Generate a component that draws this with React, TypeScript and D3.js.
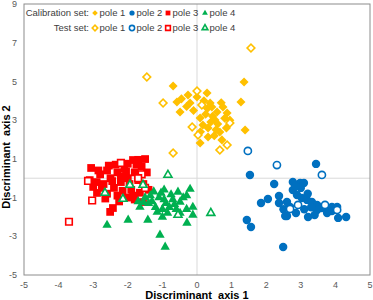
import React from "react";
import * as d3 from "d3";

const xTicks = [-5, -4, -3, -2, -1, 0, 1, 2, 3, 4, 5];
const yTicks = [9, 7, 5, 3, 1, -1, -3, -5];

const pole1Cal: [number, number][] = [
  [1.36, 4.97], [1.27, 3.94], [-0.69, 4.76], [-0.58, 3.94], [-0.49, 3.42], [-0.26, 4.3], [-0.2, 3.89],
  [0.29, 4.4], [0.38, 3.89], [0.43, 3.68], [0.09, 3.11], [0.58, 3.42], [0.75, 3.68], [0.52, 3.01],
  [0.32, 2.6], [0.66, 2.39], [0.17, 2.75], [0.32, 2.13], [0.09, 1.82], [0.72, 1.98], [1.39, 2.49],
  [0.87, 3.37], [0.45, 3.2], [0.6, 2.8], [0.25, 3.3], [0.8, 3.1], [0.5, 2.2], [0.1, 2.4], [-0.1, 3.5],
  [0.7, 3.9], [0.2, 4.0], [0.4, 2.9], [0.95, 3.0], [0.3, 3.6], [0.0, 4.2], [0.55, 2.5], [0.85, 2.6],
  [-0.45, 4.1], [-0.3, 3.7],
];
const pole1Test: [number, number][] = [
  [1.56, 6.73], [-1.45, 5.23], [0.0, 4.51], [-0.98, 3.89], [0.14, 3.78], [-0.14, 2.65], [0.03, 2.23],
  [-0.69, 1.3], [0.66, 1.46], [0.87, 1.72], [0.95, 2.85],
];
const pole2Cal: [number, number][] = [
  [3.44, 0.74], [1.53, 0.17], [2.23, -0.3], [2.77, -0.19], [2.98, -0.25], [3.09, -0.25], [2.77, -0.61],
  [2.89, -0.87], [3.03, -1.02], [3.18, -1.12], [3.32, -1.23], [3.47, -1.38], [3.61, -1.54], [3.76, -1.54],
  [3.9, -1.49], [4.05, -1.49], [4.08, -2.05], [4.31, -2.0], [3.76, -1.8], [3.47, -1.64], [1.85, -1.28],
  [2.05, -1.07], [2.37, -0.92], [2.37, -1.28], [2.6, -1.23], [2.69, -1.49], [2.6, -1.95], [2.86, -1.8],
  [3.21, -2.0], [1.44, -2.16], [1.56, -2.52], [2.49, -3.55], [3.0, -0.5], [3.2, -0.8], [2.5, -1.6],
  [3.4, -1.9], [3.1, -1.6], [2.85, -0.4], [3.3, -1.5], [3.9, -1.7], [2.55, -1.95],
];
const pole2Test: [number, number][] = [
  [1.47, 1.41], [2.31, 0.68], [3.61, 0.17], [3.7, -1.38], [4.05, -1.64], [2.69, -1.59], [2.92, -1.38],
];
const pole3Cal: [number, number][] = [
  [-3.06, 0.53], [-3.1, -0.1], [-2.89, -0.76], [-1.5, 0.99], [-1.85, 0.94], [-1.56, -1.23], [-2.51, -1.74],
  [-2.43, -1.54], [-2.8, 0.2], [-2.7, -0.3], [-2.6, 0.4], [-2.5, 0.0], [-2.4, -0.5], [-2.3, 0.3],
  [-2.2, -0.2], [-2.1, 0.5], [-2.0, 0.0], [-1.9, -0.6], [-1.8, 0.3], [-1.7, -0.1], [-1.6, 0.6],
  [-1.55, -0.3], [-2.35, 0.7], [-2.0, 0.75], [-1.75, 0.7], [-2.6, -0.8], [-2.3, -0.9], [-2.0, -1.0],
  [-1.8, -1.1], [-2.75, -0.5], [-2.9, -0.2], [-2.15, -0.65], [-1.95, -0.3], [-2.45, -0.15], [-2.55, 0.65],
  [-1.65, -0.75], [-2.85, 0.4], [-2.2, 0.1], [-1.85, -0.9], [-2.65, -1.05], [-3.0, -0.45], [-1.45, 0.3],
  [-1.4, -0.6], [-2.25, -1.2], [-1.7, 0.95], [-2.05, 0.35],
];
const pole3Test: [number, number][] = [
  [-2.2, 0.79], [-3.15, -0.14], [-3.03, -1.15], [-1.5, -0.5], [-3.7, -2.25], [-1.6, 0.2], [-1.7, 0.0],
];
const pole4Cal: [number, number][] = [
  [-0.2, -0.56], [-0.55, -0.71], [-1.04, -0.76], [-0.12, -1.49], [-0.12, -1.9], [-0.29, -2.31],
  [-2.6, -2.42], [-1.99, -2.16], [-1.42, -2.16], [-1.07, -2.93], [-0.92, -3.55], [-1.65, -1.49],
  [-0.49, -1.23], [-0.49, -1.8], [-1.5, -1.0], [-1.3, -1.2], [-1.1, -1.0], [-0.9, -1.3], [-0.7, -1.1],
  [-1.2, -1.5], [-1.0, -1.6], [-0.8, -1.5], [-0.6, -1.6], [-1.4, -1.3], [-1.35, -0.9], [-0.95, -1.1],
  [-0.75, -0.85], [-1.15, -1.75], [-0.85, -1.8], [-0.65, -1.35], [-1.55, -1.25], [-0.4, -1.0],
  [-0.3, -0.9], [-1.7, -1.2], [-0.95, -0.6], [-1.25, -0.7], [-0.3, -1.6], [-1.0, -2.0],
];
const pole4Test: [number, number][] = [
  [-0.84, 0.17], [-1.94, -0.35], [-2.66, -0.76], [-2.14, -1.07], [-1.56, -0.35], [-0.55, -1.9], [0.4, -1.8],
];

const poleLabels = ["pole 1", "pole 2", "pole 3", "pole 4"];
const colors = ["#FFC000", "#0070C0", "#FF0000", "#00B050"];
const shapes = ["diamond", "circle", "square", "triangle"];

const W = 373, H = 300;
const x = d3.scaleLinear().domain([-5, 5]).range([24, 370]);
const y = d3.scaleLinear().domain([-5, 9]).range([275, 4]);
const FONT = "'Liberation Sans', Arial, sans-serif";

function symPath(shape: string, scale: number) {
  if (shape === "diamond") return d3.symbol(d3.symbolSquare, 41 * scale * scale)()!;
  if (shape === "circle") return d3.symbol(d3.symbolCircle, 56 * scale * scale)()!;
  if (shape === "square") return d3.symbol(d3.symbolSquare, 60 * scale * scale)()!;
  return d3.symbol(d3.symbolTriangle, 38 * scale * scale)()!;
}

function Marker({ shape, color, hollow, cx, cy, scale = 1 }: any) {
  const s = hollow ? scale * 0.85 : scale;
  const rot = shape === "diamond" ? 45 : 0;
  return (
    <path
      d={symPath(shape, s)}
      transform={`translate(${cx},${cy}) rotate(${rot})`}
      fill={hollow ? "#fff" : color}
      stroke={hollow ? color : "none"}
      strokeWidth={hollow ? 1.6 : 0}
    />
  );
}

const calSeries = [pole1Cal, pole2Cal, pole3Cal, pole4Cal];
const testSeries = [pole1Test, pole2Test, pole3Test, pole4Test];

export default function App() {
  const legendX = [95, 132, 168, 205];
  return (
    <svg width={W} height={H} style={{ position: "absolute", left: 0, top: 0, background: "#fff" }} fontFamily={FONT}>
      <rect x={0} y={0} width={W} height={H} fill="#fff" />
      <line x1={x(0)} x2={x(0)} y1={y(9)} y2={y(-5)} stroke="#d9d9d9" strokeWidth={1} />
      <line x1={x(-5)} x2={x(5)} y1={y(0)} y2={y(0)} stroke="#d9d9d9" strokeWidth={1} />
      <rect x={x(-5)} y={y(9)} width={x(5) - x(-5)} height={y(-5) - y(9)} fill="none" stroke="#8c8c8c" strokeWidth={1} />
      {yTicks.map((t) => (
        <text key={"y" + t} x={17} y={y(t)} dy="0.35em" textAnchor="end" fontSize={9} fill="#595959">{t}</text>
      ))}
      {xTicks.map((t) => (
        <text key={"x" + t} x={x(t)} y={288} textAnchor="middle" fontSize={9} fill="#595959">{t}</text>
      ))}
      <text x={x(0)} y={299} textAnchor="middle" fontSize={11} fontWeight="bold" fill="#000" style={{ whiteSpace: "pre" }}>{"Discriminant  axis 1"}</text>
      <text transform={`translate(10,157) rotate(-90)`} textAnchor="middle" fontSize={11} fontWeight="bold" fill="#000" style={{ whiteSpace: "pre" }}>{"Discriminant  axis 2"}</text>
      {calSeries.map((ser, i) => (
        <g key={"c" + i}>
          {ser.map((p, j) => (
            <Marker key={j} shape={shapes[i]} color={colors[i]} hollow={false} cx={x(p[0])} cy={y(p[1])} />
          ))}
        </g>
      ))}
      {testSeries.map((ser, i) => (
        <g key={"t" + i}>
          {ser.map((p, j) => (
            <Marker key={j} shape={shapes[i]} color={colors[i]} hollow={true} cx={x(p[0])} cy={y(p[1])} />
          ))}
        </g>
      ))}
      <text x={89} y={13} dy="0.35em" textAnchor="end" fontSize={9.5} fill="#404040">Calibration set:</text>
      <text x={89} y={28} dy="0.35em" textAnchor="end" fontSize={9.5} fill="#404040">Test set:</text>
      {poleLabels.map((lab, i) => (
        <g key={"l" + i}>
          <Marker shape={shapes[i]} color={colors[i]} hollow={false} cx={legendX[i]} cy={13} scale={0.62} />
          <text x={legendX[i] + 4.5} y={13} dy="0.35em" fontSize={9.5} fill="#404040">{lab}</text>
          <Marker shape={shapes[i]} color={colors[i]} hollow={true} cx={legendX[i]} cy={28} scale={0.72} />
          <text x={legendX[i] + 4.5} y={28} dy="0.35em" fontSize={9.5} fill="#404040">{lab}</text>
        </g>
      ))}
    </svg>
  );
}
